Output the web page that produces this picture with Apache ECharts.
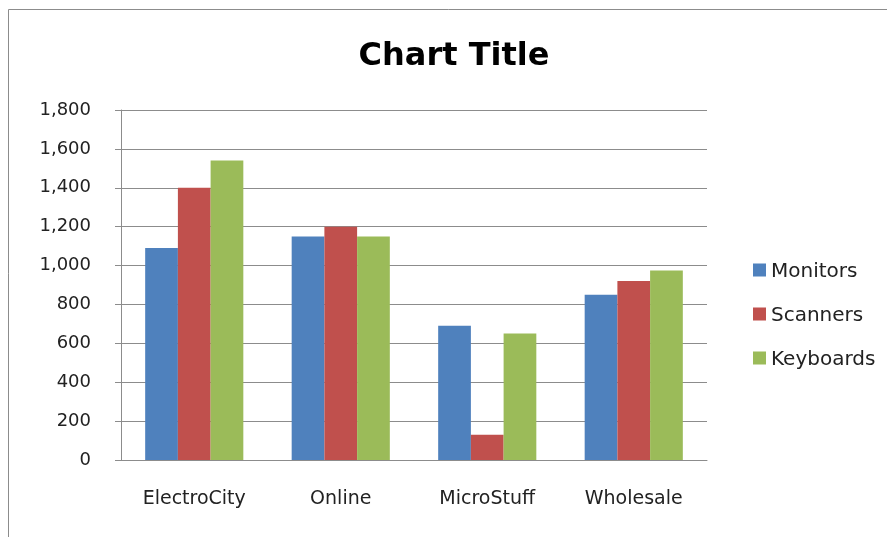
<!DOCTYPE html>
<html>
<head>
<meta charset="utf-8">
<script src="https://cdn.jsdelivr.net/npm/echarts@6/dist/echarts.min.js"></script>
<style>html,body{margin:0;padding:0;background:#fff}#c{width:887px;height:537px}</style>
</head>
<body>
<div id="c"></div>
<script>
const categories = ['ElectroCity', 'Online', 'MicroStuff', 'Wholesale'];
const monitors = [1090, 1150, 690, 850];
const scanners = [1400, 1200, 130, 920];
const keyboards = [1540, 1150, 650, 975];
const seriesNames = ['Monitors', 'Scanners', 'Keyboards'];
const colors = ['#4F81BD', '#C0504D', '#9BBB59'];

const font = '"DejaVu Sans", sans-serif';
const chart = echarts.init(document.getElementById('c'), null, {renderer: 'canvas'});
chart.setOption({
  animation: false,
  color: colors,
  graphic: [{
    type: 'rect', shape: {x: 8.5, y: 9.5, width: 900, height: 600},
    style: {fill: 'none', stroke: '#8c8c8c', lineWidth: 1}, silent: true, z: -1
  }],
  title: {
    text: 'Chart Title', left: 449, top: 36, textAlign: 'center',
    textStyle: {fontFamily: font, fontWeight: 'bold', fontSize: 32, color: '#000'}
  },
  legend: {
    orient: 'vertical', left: 748, top: 257, itemGap: 24, itemWidth: 13, itemHeight: 17,
    icon: 'path://M0,0H13V13H0Z M0,17L0.01,17L0,17Z',
    textStyle: {fontFamily: font, fontSize: 20, color: '#222'},
    data: seriesNames
  },
  grid: {left: 121, right: 180, top: 110, bottom: 77, containLabel: false},
  xAxis: {
    type: 'category', data: categories,
    axisLine: {show: true, lineStyle: {color: '#8c8c8c', width: 1}},
    axisTick: {show: false},
    axisLabel: {margin: 30, fontFamily: font, fontSize: 19, color: '#222'}
  },
  yAxis: {
    type: 'value', min: 0, max: 1800, interval: 200,
    axisLine: {show: true, lineStyle: {color: '#8c8c8c', width: 1}},
    axisTick: {show: true, length: 6, lineStyle: {color: '#8c8c8c'}},
    splitLine: {lineStyle: {color: '#8c8c8c', width: 1}},
    axisLabel: {margin: 30, fontFamily: font, fontSize: 18, color: '#222',
      formatter: v => v.toLocaleString('en-US')}
  },
  series: [
    {name: seriesNames[0], type: 'bar', data: monitors, barGap: '0%', barCategoryGap: '33%'},
    {name: seriesNames[1], type: 'bar', data: scanners, barGap: '0%', barCategoryGap: '33%'},
    {name: seriesNames[2], type: 'bar', data: keyboards, barGap: '0%', barCategoryGap: '33%'}
  ]
});
</script>
</body>
</html>
